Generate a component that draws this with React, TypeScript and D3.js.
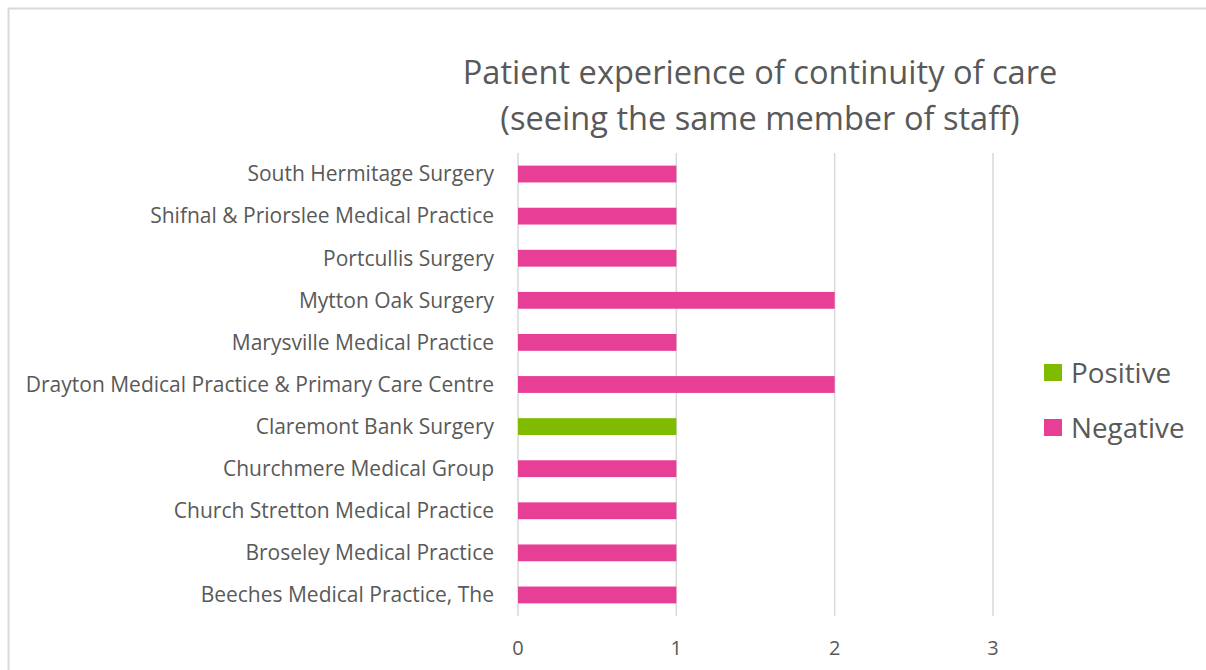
import React from "react";
import * as d3 from "d3";

const categories = [
  "South Hermitage Surgery",
  "Shifnal & Priorslee Medical Practice",
  "Portcullis Surgery",
  "Mytton Oak Surgery",
  "Marysville Medical Practice",
  "Drayton Medical Practice & Primary Care Centre",
  "Claremont Bank Surgery",
  "Churchmere Medical Group",
  "Church Stretton Medical Practice",
  "Broseley Medical Practice",
  "Beeches Medical Practice, The",
];
const positiveValues = [0, 0, 0, 0, 0, 0, 1, 0, 0, 0, 0];
const negativeValues = [1, 1, 1, 2, 1, 2, 0, 1, 1, 1, 1];
const xTicks = [0, 1, 2, 3];
const seriesNames = ["Positive", "Negative"];
const seriesColors = ["#7FBC00", "#E83F96"];
const titleLines = ["Patient experience of continuity of care", "(seeing the same member of staff)"];

export default function App() {
  const W = 1206, H = 670;
  const x = d3.scaleLinear().domain([0, 3]).range([518, 993]);
  const y = d3.scaleBand().domain(categories).range([153, 616]).paddingInner(0.6).paddingOuter(0.3);
  const band = d3.scaleBand().domain(categories).range([153, 616]);
  const font = "'Open Sans', sans-serif";
  const textColor = "#595959";
  const bars: { cat: string; v: number; color: string }[] = [];
  categories.forEach((c, i) => {
    if (positiveValues[i] > 0) bars.push({ cat: c, v: positiveValues[i], color: seriesColors[0] });
    if (negativeValues[i] > 0) bars.push({ cat: c, v: negativeValues[i], color: seriesColors[1] });
  });
  return (
    <svg width={W} height={H} style={{ position: "absolute", left: 0, top: 0 }} fontFamily={font}>
      <rect x={0} y={0} width={W} height={H} fill="#fff" />
      <rect x={8.5} y={8.5} width={W + 20} height={H + 20} fill="#fff" stroke="#d9d9d9" strokeWidth={2} />
      {titleLines.map((t, i) => (
        <text key={i} x={760} y={84 + i * 46} textAnchor="middle" fontSize={32.6} fill={textColor}>{t}</text>
      ))}
      {xTicks.map((t) => (
        <g key={t}>
          <line x1={x(t)} x2={x(t)} y1={153} y2={616} stroke="#d9d9d9" strokeWidth={1.5} />
          <text x={x(t)} y={655} textAnchor="middle" fontSize={20} fill={textColor}>{t}</text>
        </g>
      ))}
      {bars.map((b, i) => (
        <rect key={i} x={x(0)} y={y(b.cat)!} width={x(b.v) - x(0)} height={y.bandwidth()} fill={b.color} />
      ))}
      {categories.map((c) => (
        <text key={c} x={494} y={band(c)! + band.bandwidth() / 2} dy="0.35em" textAnchor="end" fontSize={21} fill={textColor}>{c}</text>
      ))}
      {seriesNames.map((s, i) => (
        <g key={s}>
          <rect x={1044} y={364 + i * 55} width={18} height={17} fill={seriesColors[i]} />
          <text x={1071} y={373 + i * 55} dy="0.35em" fontSize={27.8} fill={textColor}>{s}</text>
        </g>
      ))}
    </svg>
  );
}
